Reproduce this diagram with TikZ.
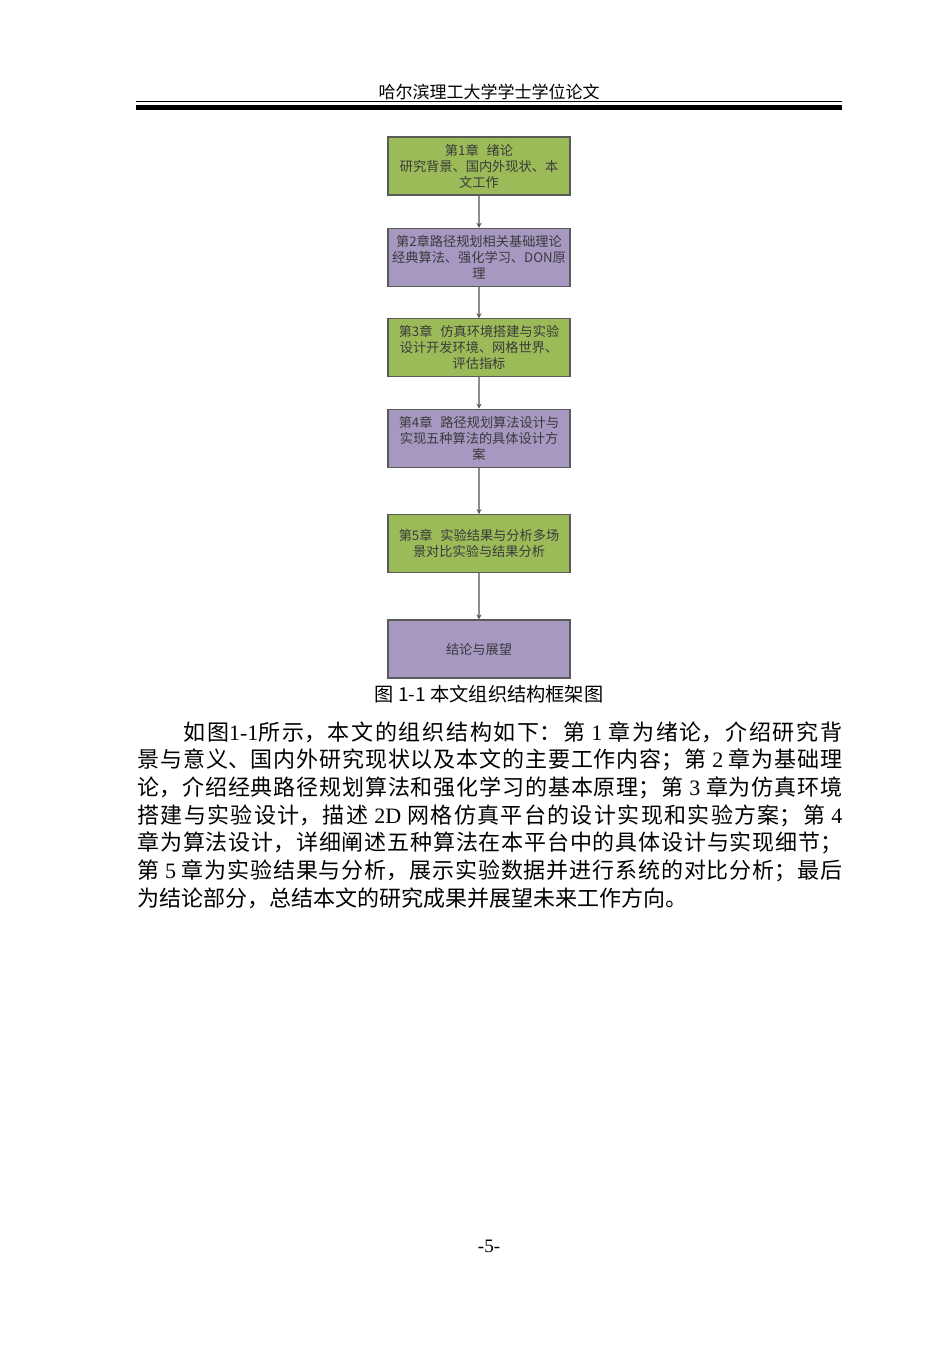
\documentclass[tikz,border=0pt]{standalone}
\usepackage{fontspec}
\setmainfont{Noto Sans CJK SC}
\newfontfamily\lserif{Liberation Serif}
\usepackage{tikz}
\usetikzlibrary{matrix,arrows.meta}
\XeTeXlinebreaklocale "zh"
\XeTeXlinebreakskip=0pt plus 1.5pt minus 0.3pt
\tolerance=9999
\definecolor{chapgreen}{HTML}{9BBB59}
\definecolor{chappurple}{HTML}{A798C2}
\definecolor{chapedge}{HTML}{5A5A5A}
\definecolor{chaptext}{HTML}{3A3A3A}
\definecolor{arrowgray}{HTML}{8C8C8C}
\newcommand{\chgap}{\hspace{0.6em}}

\begin{document}
\begin{tikzpicture}[x=0.5pt,y=-0.5pt,
  chap/.style={draw=chapedge, line width=0.6pt, minimum width=91pt, minimum height=29pt,
    inner sep=1pt, align=center, text=chaptext, font=\fontsize{6.6pt}{8pt}\selectfont},
  flow/.style={draw=arrowgray, line width=0.8pt, -{Stealth[length=2.5pt,width=2.6pt,color=black!65]}}]
  \useasboundingbox (0,0) rectangle (950,1350);
  % page header
  \node[font=\fontsize{8.5pt}{10pt}\selectfont] (head) at (489,92) {哈尔滨理工大学学士学位论文};
  \draw[line width=0.75pt] (136,101.5) -- (842,101.5);
  \fill (136,105) rectangle (842,110.3);
  % chapter flow
  \matrix (m) [row sep=15.6pt, inner sep=0pt, anchor=north] at (479,136)
  {
    \node[chap, fill=chapgreen] (ch1) {第1章\chgap 绪论\\研究背景、国内外现状、本\\文工作}; \\[0.5pt]
    \node[chap, fill=chappurple] (ch2) {第2章路径规划相关基础理论\\经典算法、强化学习、DON原\\理}; \\
    \node[chap, fill=chapgreen] (ch3) {第3章\chgap 仿真环境搭建与实验\\设计开发环境、网格世界、\\评估指标}; \\
    \node[chap, fill=chappurple] (ch4) {第4章\chgap 路径规划算法设计与\\实现五种算法的具体设计方\\案}; \\[7.5pt]
    \node[chap, fill=chapgreen] (ch5) {第5章\chgap 实验结果与分析多场\\景对比实验与结果分析}; \\[7.5pt]
    \node[chap, fill=chappurple] (ch6) {结论与展望}; \\
  };
  \path[flow]
  (ch1) edge (ch2)
  (ch2) edge (ch3)
  (ch3) edge (ch4)
  (ch4) edge (ch5)
  (ch5) edge (ch6)
  ;
  \node[font=\fontsize{9.6pt}{11pt}\selectfont] (cap) at (489,694) {图 1-1 本文组织结构框架图};
  % body text
  \node[anchor=north west, inner sep=0pt, text width=352.5pt, align=justify,
    font=\fontsize{11pt}{13.85pt}\selectfont] (body) at (137,721)
  {\hspace*{23pt}如图{\lserif 1-1}所示，本文的组织结构如下：第 {\lserif 1} 章为绪论，介绍研究背\linebreak
  景与意义、国内外研究现状以及本文的主要工作内容；第 {\lserif 2} 章为基础理\linebreak
  论，介绍经典路径规划算法和强化学习的基本原理；第 {\lserif 3} 章为仿真环境\linebreak
  搭建与实验设计，描述 {\lserif 2D} 网格仿真平台的设计实现和实验方案；第 {\lserif 4}\linebreak
  章为算法设计，详细阐述五种算法在本平台中的具体设计与实现细节；\linebreak
  第 {\lserif 5} 章为实验结果与分析，展示实验数据并进行系统的对比分析；最后\linebreak
  为结论部分，总结本文的研究成果并展望未来工作方向。};
  \node[font=\lserif\fontsize{9.5pt}{11pt}\selectfont] (pgnum) at (489,1246) {-5-};
\end{tikzpicture}
\end{document}
